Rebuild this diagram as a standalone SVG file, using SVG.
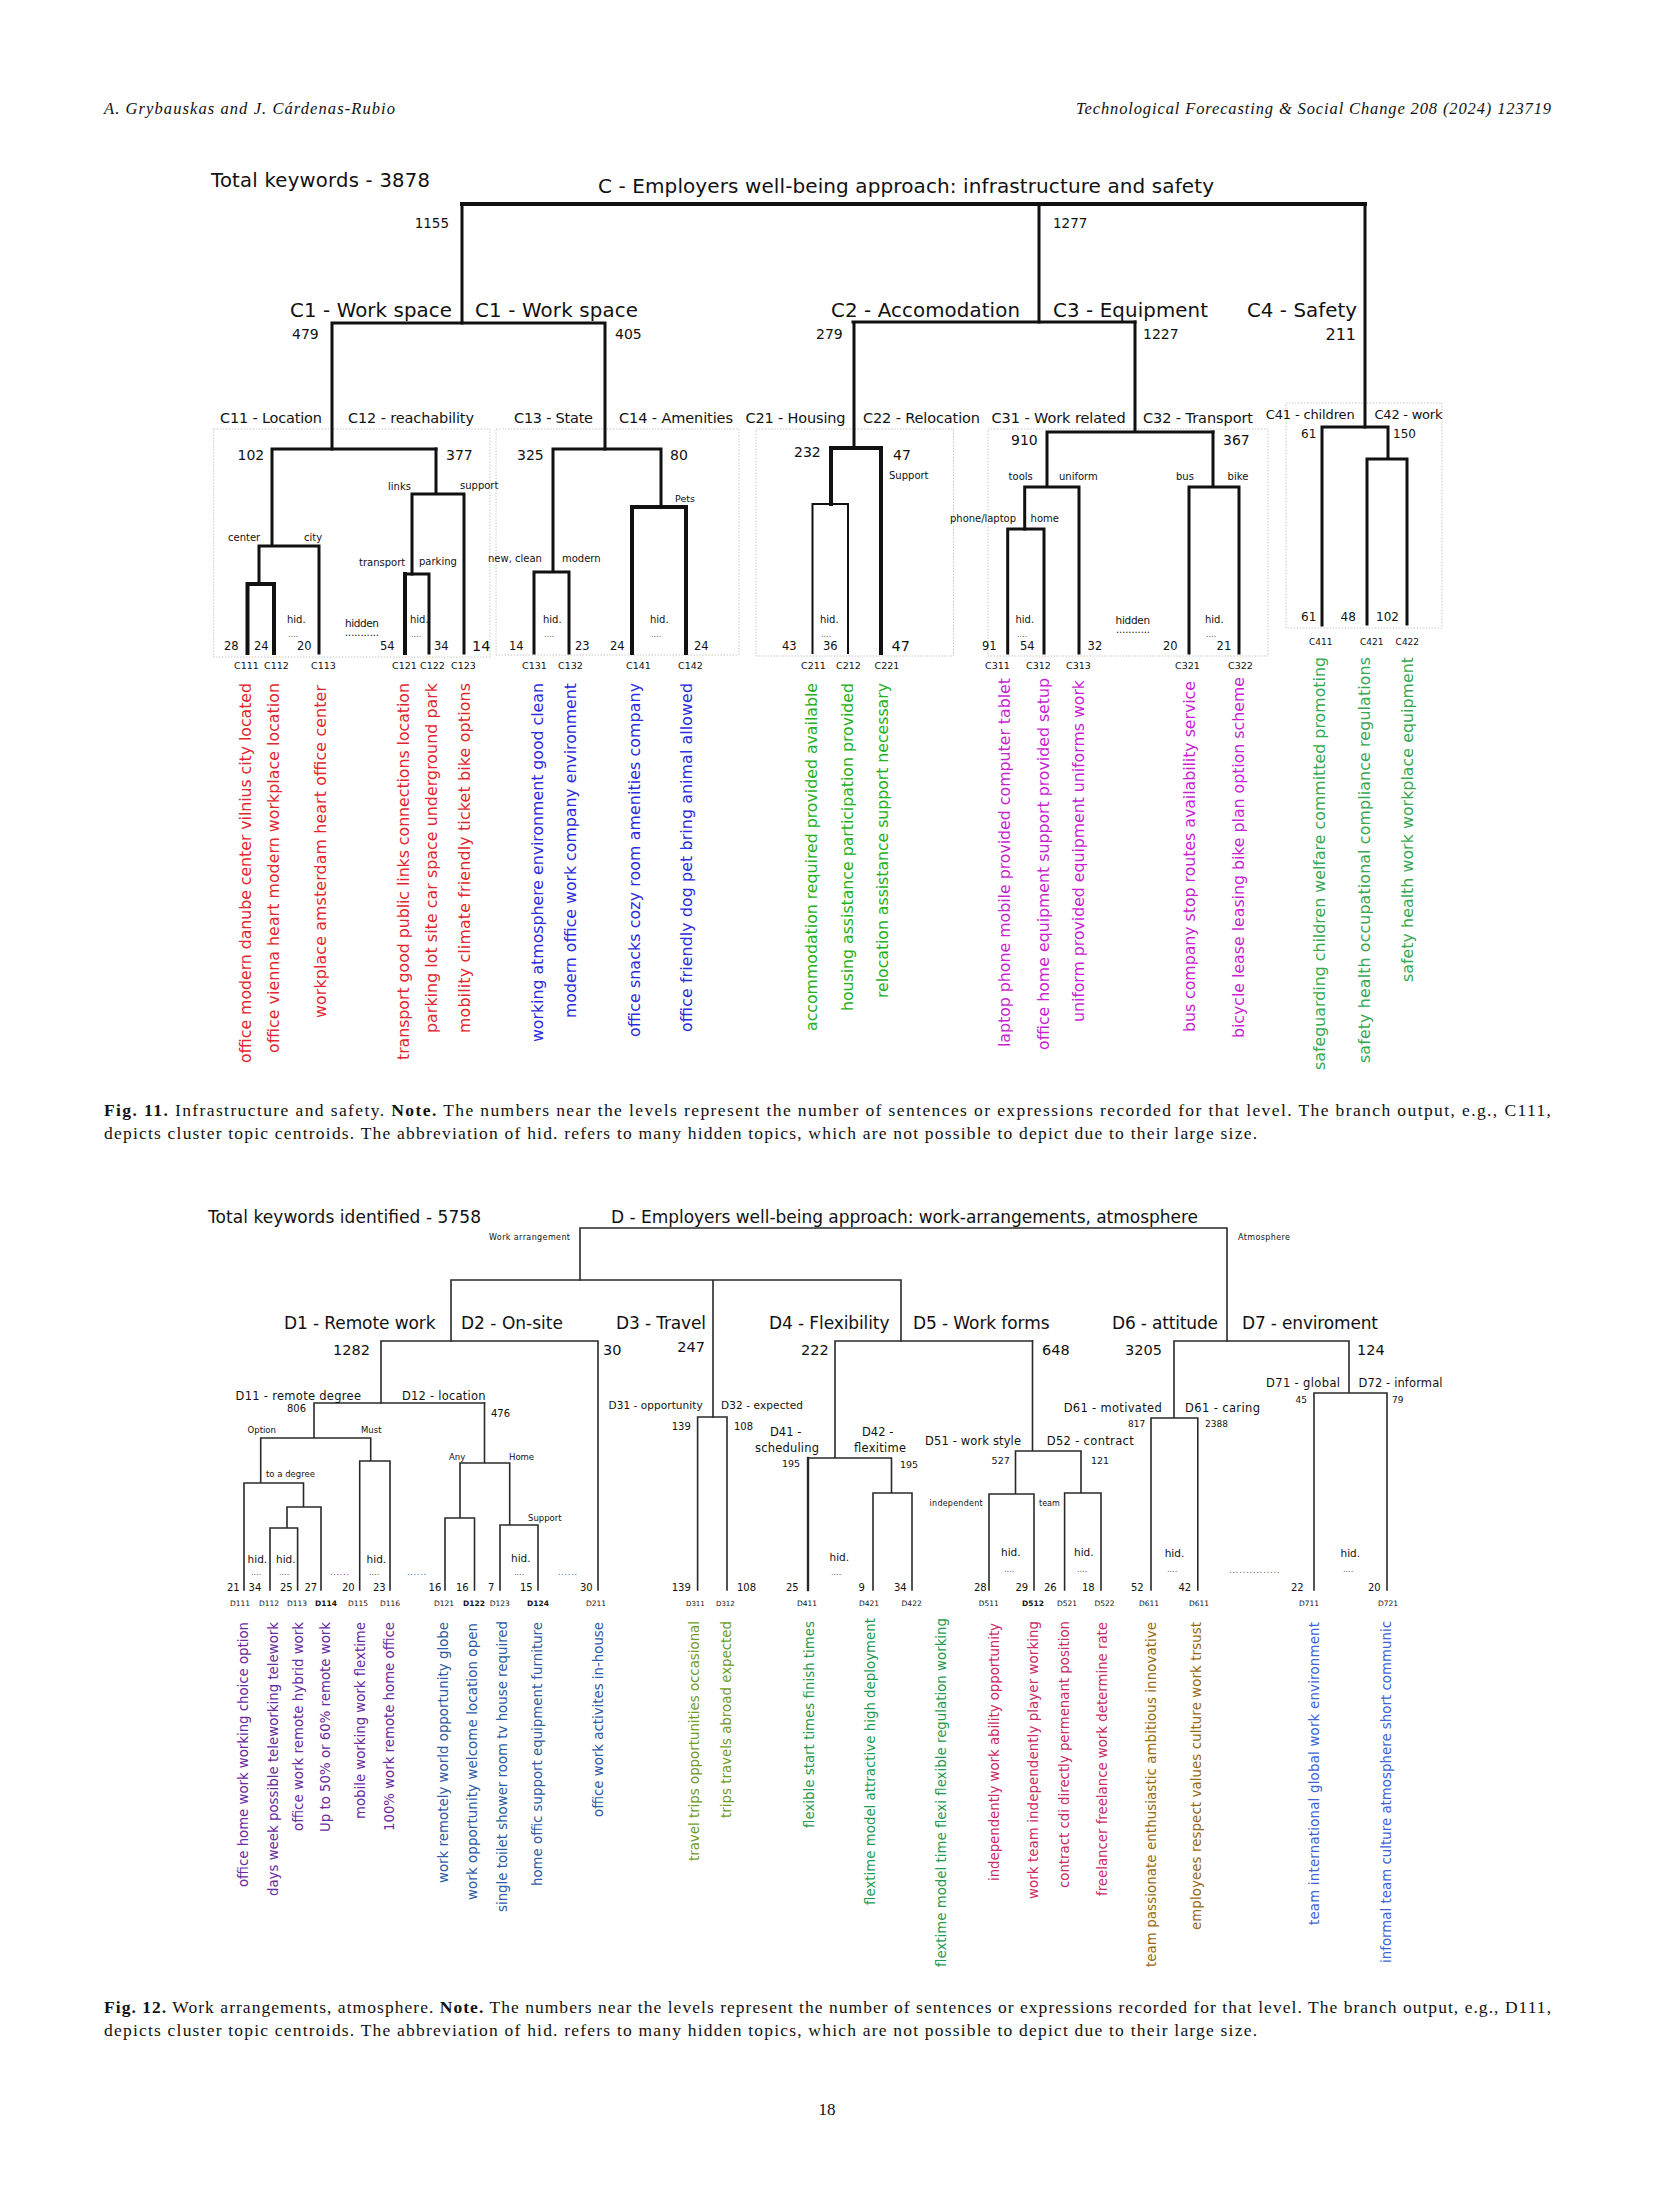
<svg xmlns="http://www.w3.org/2000/svg" width="1654" height="2205" viewBox="0 0 1654 2205">
<style>
text{font-family:"DejaVu Sans","Liberation Sans",sans-serif;fill:#111}
.hd{font-family:"Liberation Serif",serif;font-style:italic;font-size:16.5px}
.cap{font-family:"Liberation Serif",serif;font-size:17.5px}
.cap .b{font-weight:bold}
.pg{font-family:"Liberation Serif",serif;font-size:17px}
.t20{font-size:20px}.t196{font-size:19.6px}.t198{font-size:19.8px}.t17{font-size:17px}.t16{font-size:16px}
.t145{font-size:14.5px}.t14{font-size:14px}.t135{font-size:13.5px}.t13{font-size:13px}.t12{font-size:12px}
.t115{font-size:11.5px}.t11{font-size:11px}.t105{font-size:10.5px}.t10{font-size:10px}
.t95{font-size:9.5px}.t9{font-size:9px}.t85{font-size:8.5px}.t8{font-size:8px}.t75{font-size:7.5px}.t7{font-size:7px}
.dots{font-size:8px;fill:#555}
.r11{font-size:15.8px}.r12{font-size:13.3px}
.red{fill:#e3262d}.blu{fill:#2a2ae0}.grn{fill:#22b022}.mag{fill:#c81fd0}.gr2{fill:#35a853}
.pur{fill:#6a2aa0}.stb{fill:#2d5ba6}.olv{fill:#6e9c25}.tea{fill:#1f9a50}.crm{fill:#cc2a66}.brn{fill:#9a6812}.roy{fill:#3c64d8}
.box{fill:none;stroke:#c8c8c8;stroke-width:1;stroke-dasharray:1.5 1.5}
.k4,.k3,.k2,.ln{fill:none;stroke:#111;stroke-linecap:square;stroke-linejoin:miter}
.k4{stroke-width:4}.k3{stroke-width:3}.k2{stroke-width:2}
.ln{stroke:#2a2a2a;stroke-width:1.6}
</style>
<rect width="1654" height="2205" fill="#fff"/>

<g id="page-header">
<text class="hd" x="104" y="114" textLength="291">A. Grybauskas and J. Cárdenas-Rubio</text>
<text class="hd" x="1076" y="114" textLength="475">Technological Forecasting &amp; Social Change 208 (2024) 123719</text>
</g>

<!-- ================= FIG 11 ================= -->
<g id="fig11-boxes">
<rect class="box" x="213.6" y="429" width="276.4" height="228"/>
<rect class="box" x="496" y="429" width="243" height="226"/>
<rect class="box" x="756" y="429" width="197.5" height="227"/>
<rect class="box" x="988" y="429" width="280" height="227"/>
<rect class="box" x="1286" y="403" width="156" height="225"/>
</g>

<g id="fig11-connectors">
<path class="k4" d="M462,204 H1365"/>
<path class="k3" d="M462,204 V323 M1039,204 V322 M1365,204 V427"/>
<path class="k3" d="M332,323 H605 M332,323 V449 M605,323 V449"/>
<path class="k3" d="M272,449 H436 M272,449 V546 M259,546 H319 M319,546 V653 M259,546 V584"/>
<path class="k4" d="M247.5,584 H274 M247.5,584 V653 M274,584 V653"/>
<path class="k3" d="M436,449 V494 M412,494 H464 M464,494 V653 M412,494 V574"/>
<path class="k3" d="M405,574 H429 M429,574 V653"/>
<path class="k4" d="M405,574 V653"/>
<path class="k3" d="M553,449 H661 M553,449 V572 M534,572 H569 M534,572 V653 M569,572 V653 M661,449 V507"/>
<path class="k4" d="M632,507 H686 M632,507 V653 M686,507 V653"/>
<path class="k3" d="M853,322 H1135 M854,322 V448"/>
<path class="k4" d="M831,448 H881 M831,448 V504 M881,448 V653"/>
<path class="k2" d="M812.5,504 H848 M812.5,504 V653 M848,504 V653"/>
<path class="k3" d="M1135,322 V432 M1047,432 H1213 M1047,432 V487 M1024.7,487 H1079 M1079,487 V653 M1024.7,487 V529"/>
<path class="k3" d="M1007.7,529 H1044 M1007.7,529 V653 M1044,529 V653"/>
<path class="k3" d="M1213,432 V487 M1189,487 H1239 M1189,487 V653 M1239,487 V653"/>
<path class="k3" d="M1322,427 H1388 M1322,427 V625 M1388,427 V459 M1367,459 H1407 M1367,459 V624 M1407,459 V624"/>
</g>

<g id="node-C">
<text class="t196" x="211" y="187" textLength="219">Total keywords - 3878</text>
<text class="t20" x="598" y="193" textLength="616">C - Employers well-being approach: infrastructure and safety</text>
<text class="t135" x="449" y="228" text-anchor="end">1155</text>
<text class="t135" x="1053" y="228">1277</text>
</g>
<g id="node-C1">
<text class="t198" x="290" y="317" textLength="162">C1 - Work space</text>
<text class="t198" x="475" y="317" textLength="163">C1 - Work space</text>
<text class="t14" x="292" y="339">479</text>
<text class="t14" x="615" y="339">405</text>
</g>
<g id="node-C2">
<text class="t198" x="831" y="317" textLength="189">C2 - Accomodation</text>
<text class="t14" x="816" y="339">279</text>
</g>
<g id="node-C3">
<text class="t198" x="1053" y="317" textLength="155">C3 - Equipment</text>
<text class="t14" x="1143" y="339">1227</text>
</g>
<g id="node-C4">
<text class="t198" x="1247" y="317" textLength="110">C4 - Safety</text>
<text class="t16" x="1356" y="340" text-anchor="end">211</text>
</g>

<g id="node-C11">
<text class="t145" x="220" y="423" textLength="102">C11 - Location</text>
<text class="t14" x="237.5" y="460">102</text>
<text class="t10" x="228" y="541">center</text>
<text class="t10" x="304" y="541">city</text>
<text class="t10" x="287" y="623">hid.</text>
<text class="dots" x="288" y="637">....</text>
<text class="t115" x="224" y="650">28</text>
<text class="t115" x="254" y="650">24</text>
<text class="t115" x="297" y="650">20</text>
<text class="t95" x="234" y="669">C111</text>
<text class="t95" x="264" y="669">C112</text>
<text class="t95" x="311" y="669">C113</text>
</g>
<g id="node-C12">
<text class="t145" x="348" y="423" textLength="126">C12 - reachability</text>
<text class="t14" x="446" y="460">377</text>
<text class="t10" x="388" y="490">links</text>
<text class="t10" x="460" y="489">support</text>
<text class="t10" x="359" y="566">transport</text>
<text class="t10" x="419" y="565">parking</text>
<text class="t105" x="345" y="627" textLength="34">hidden</text>
<text class="t10" x="345" y="636" textLength="34">...........</text>
<text class="t10" x="410" y="623">hid.</text>
<text class="dots" x="411" y="637">....</text>
<text class="t115" x="380" y="650">54</text>
<text class="t115" x="434" y="650">34</text>
<text class="t145" x="472" y="651">14</text>
<text class="t95" x="392" y="669">C121</text>
<text class="t95" x="420" y="669">C122</text>
<text class="t95" x="451" y="669">C123</text>
</g>
<g id="node-C13">
<text class="t145" x="514" y="423" textLength="79">C13 - State</text>
<text class="t14" x="517" y="460">325</text>
<text class="t10" x="488" y="562">new, clean</text>
<text class="t10" x="562" y="562">modern</text>
<text class="t10" x="543" y="623">hid.</text>
<text class="dots" x="544" y="637">....</text>
<text class="t115" x="509" y="650">14</text>
<text class="t115" x="575" y="650">23</text>
<text class="t95" x="522" y="669">C131</text>
<text class="t95" x="558" y="669">C132</text>
</g>
<g id="node-C14">
<text class="t145" x="619" y="423" textLength="114">C14 - Amenities</text>
<text class="t14" x="670" y="460">80</text>
<text class="t95" x="675" y="502">Pets</text>
<text class="t10" x="650" y="623">hid.</text>
<text class="dots" x="651" y="637">....</text>
<text class="t115" x="610" y="650">24</text>
<text class="t115" x="694" y="650">24</text>
<text class="t95" x="626" y="669">C141</text>
<text class="t95" x="678" y="669">C142</text>
</g>
<g id="node-C21">
<text class="t145" x="745.5" y="423" textLength="100">C21 - Housing</text>
<text class="t14" x="794" y="457">232</text>
<text class="t10" x="820" y="623">hid.</text>
<text class="dots" x="821" y="637">....</text>
<text class="t115" x="782" y="650">43</text>
<text class="t115" x="823" y="650">36</text>
<text class="t95" x="801" y="669">C211</text>
<text class="t95" x="836" y="669">C212</text>
</g>
<g id="node-C22">
<text class="t145" x="863" y="423" textLength="117">C22 - Relocation</text>
<text class="t14" x="893" y="460">47</text>
<text class="t10" x="889" y="479">Support</text>
<text class="t145" x="891.5" y="651">47</text>
<text class="t95" x="874.5" y="669">C221</text>
</g>
<g id="node-C31">
<text class="t145" x="991.6" y="423" textLength="134">C31 - Work related</text>
<text class="t14" x="1011" y="445">910</text>
<text class="t10" x="1008.6" y="480">tools</text>
<text class="t10" x="1059" y="480">uniform</text>
<text class="t10" x="950" y="522" textLength="66">phone/laptop</text>
<text class="t10" x="1030.6" y="522">home</text>
<text class="t10" x="1015.5" y="623">hid.</text>
<text class="dots" x="1017" y="637">....</text>
<text class="t115" x="982" y="650">91</text>
<text class="t115" x="1020" y="650">54</text>
<text class="t115" x="1087.6" y="650">32</text>
<text class="t95" x="985" y="669">C311</text>
<text class="t95" x="1026" y="669">C312</text>
<text class="t95" x="1066" y="669">C313</text>
<text class="t105" x="1115.6" y="624" textLength="34.5">hidden</text>
<text class="t10" x="1116" y="633" textLength="34">...........</text>
</g>
<g id="node-C32">
<text class="t145" x="1143" y="423" textLength="110">C32 - Transport</text>
<text class="t14" x="1223" y="445">367</text>
<text class="t10" x="1176" y="480">bus</text>
<text class="t10" x="1227.6" y="480">bike</text>
<text class="t10" x="1205" y="623">hid.</text>
<text class="dots" x="1206" y="637">....</text>
<text class="t115" x="1163" y="650">20</text>
<text class="t115" x="1216.6" y="650">21</text>
<text class="t95" x="1175" y="669">C321</text>
<text class="t95" x="1228" y="669">C322</text>
</g>
<g id="node-C41">
<text class="t13" x="1265.7" y="419" textLength="89">C41 - children</text>
<text class="t12" x="1301" y="438">61</text>
<text class="t12" x="1301" y="621">61</text>
<text class="t9" x="1309" y="645">C411</text>
</g>
<g id="node-C42">
<text class="t13" x="1374.5" y="419" textLength="68">C42 - work</text>
<text class="t12" x="1393" y="438">150</text>
<text class="t12" x="1340.5" y="621">48</text>
<text class="t12" x="1376" y="621">102</text>
<text class="t9" x="1360" y="645">C421</text>
<text class="t9" x="1395.6" y="645">C422</text>
</g>

<g id="fig11-leaf-topics" xml:space="preserve">
<text class="r11 red" x="251" y="1063" transform="rotate(-90 251 1063)" textLength="380">office modern danube center vilnius city located</text>
<text class="r11 red" x="278.5" y="1053" transform="rotate(-90 278.5 1053)" textLength="370">office vienna heart modern workplace  location</text>
<text class="r11 red" x="326" y="1018" transform="rotate(-90 326 1018)" textLength="333">workplace  amsterdam heart office  center</text>
<text class="r11 red" x="409" y="1060" transform="rotate(-90 409 1060)" textLength="377">transport good public links connections location</text>
<text class="r11 red" x="437" y="1033" transform="rotate(-90 437 1033)" textLength="350">parking lot site car space underground  park</text>
<text class="r11 red" x="470" y="1033" transform="rotate(-90 470 1033)" textLength="350">mobility climate friendly  ticket bike  options</text>
<text class="r11 blu" x="543" y="1042" transform="rotate(-90 543 1042)" textLength="359">working atmosphere environment good clean</text>
<text class="r11 blu" x="576" y="1018" transform="rotate(-90 576 1018)" textLength="335">modern office work company environment</text>
<text class="r11 blu" x="640" y="1037" transform="rotate(-90 640 1037)" textLength="354">office snacks cozy  room amenities company</text>
<text class="r11 blu" x="692" y="1032" transform="rotate(-90 692 1032)" textLength="349">office friendly dog  pet bring animal allowed</text>
<text class="r11 grn" x="817" y="1031" transform="rotate(-90 817 1031)" textLength="348">accommodation required provided available</text>
<text class="r11 grn" x="852.5" y="1011" transform="rotate(-90 852.5 1011)" textLength="328">housing assistance participation provided</text>
<text class="r11 grn" x="888" y="998" transform="rotate(-90 888 998)" textLength="315">relocation assistance support necessary</text>
<text class="r11 mag" x="1010" y="1047" transform="rotate(-90 1010 1047)" textLength="369">laptop phone mobile provided computer tablet</text>
<text class="r11 mag" x="1048.5" y="1050" transform="rotate(-90 1048.5 1050)" textLength="372">office home equipment support provided setup</text>
<text class="r11 mag" x="1083.5" y="1022" transform="rotate(-90 1083.5 1022)" textLength="342">uniform provided equipment uniforms work</text>
<text class="r11 mag" x="1194.5" y="1032" transform="rotate(-90 1194.5 1032)" textLength="351">bus company stop routes availability service</text>
<text class="r11 mag" x="1243.6" y="1038" transform="rotate(-90 1243.6 1038)" textLength="361">bicycle lease leasing bike plan option scheme</text>
<text class="r11 gr2" x="1324.5" y="1070" transform="rotate(-90 1324.5 1070)" textLength="413">safeguarding children welfare committed promoting</text>
<text class="r11 gr2" x="1370" y="1063" transform="rotate(-90 1370 1063)" textLength="406">safety health  occupational compliance regulations</text>
<text class="r11 gr2" x="1412.6" y="982" transform="rotate(-90 1412.6 982)" textLength="325">safety health work workplace equipment</text>
</g>

<g id="fig11-caption">
<text class="cap" x="104" y="1116" textLength="1447"><tspan class="b">Fig. 11.</tspan>  Infrastructure and safety. <tspan class="b">Note.</tspan> The numbers near the levels represent the number of sentences or expressions recorded for that level. The branch output, e.g., C111,</text>
<text class="cap" x="104" y="1139" textLength="1153">depicts cluster topic centroids. The abbreviation of hid. refers to many hidden topics, which are not possible to depict due to their large size.</text>
</g>

<!-- ================= FIG 12 ================= -->
<g id="fig12-connectors">
<path class="ln" d="M580,1228 H1227 M580,1228 V1280 M1227,1228 V1341"/>
<path class="ln" d="M451,1280 H901 M451,1280 V1341 M713,1280 V1417 M901,1280 V1341"/>
<path class="ln" d="M381,1341 H598 M381,1341 V1403 M598,1341 V1590"/>
<path class="ln" d="M314,1403 H484.5 M314,1403 V1438 M260.7,1438 H370.7 M260.7,1438 V1483 M244,1483 H303.5 M244,1483 V1590 M303.5,1483 V1507 M287,1507 H321 M321,1507 V1590 M287,1507 V1528 M270,1528 H297.6 M270,1528 V1590 M297.6,1528 V1590 M370.7,1438 V1461 M359.7,1461 H390 M359.7,1461 V1590 M390,1461 V1590"/>
<path class="ln" d="M484.5,1403 V1463 M460,1463 H509.7 M460,1463 V1518 M445,1518 H474.5 M445,1518 V1590 M474.5,1518 V1590 M509.7,1463 V1525 M500,1525 H538 M500,1525 V1590 M538,1525 V1590"/>
<path class="ln" d="M697.6,1417 H727 M697.6,1417 V1590 M727,1417 V1590"/>
<path class="ln" d="M835,1341 H1032.5 M835,1341 V1458 M808,1458 H891.5 M891.5,1458 V1493 M873,1493 H912 M873,1493 V1590 M912,1493 V1590"/>
<path class="ln" style="stroke-width:2.4" d="M808,1458 V1590"/>
<path class="ln" d="M1032.5,1341 V1451 M1015.5,1451 H1081 M1015.5,1451 V1494 M989,1494 H1034 M989,1494 V1590 M1034,1494 V1590 M1081,1451 V1493 M1064.6,1493 H1101 M1064.6,1493 V1590 M1101,1493 V1590"/>
<path class="ln" d="M1174,1341 H1349 M1174,1341 V1418 M1151,1418 H1197.8 M1151,1418 V1590 M1197.8,1418 V1590 M1349,1341 V1393 M1314,1393 H1387 M1314,1393 V1590 M1387,1393 V1590"/>
</g>

<g id="node-D">
<text class="t17" x="208" y="1223" textLength="273">Total keywords identified - 5758</text>
<text class="t17" x="611" y="1223" textLength="587">D - Employers well-being approach: work-arrangements, atmosphere</text>
<text class="t8" x="489" y="1240" textLength="81">Work arrangement</text>
<text class="t8" x="1238" y="1240" textLength="52">Atmosphere</text>
</g>
<g id="node-D1">
<text class="t17" x="284" y="1329" textLength="151.5">D1 - Remote work</text>
<text class="t145" x="370" y="1355" text-anchor="end">1282</text>
</g>
<g id="node-D2">
<text class="t17" x="461" y="1329" textLength="102">D2 - On-site</text>
<text class="t145" x="603" y="1355">30</text>
<text class="t10" x="580" y="1591">30</text>
<text class="dots" x="558" y="1575" textLength="19" style="fill:#2d5ba6">......</text>
<text class="t75" x="586" y="1606">D211</text>
</g>
<g id="node-D3">
<text class="t17" x="616" y="1329" textLength="90">D3 - Travel</text>
<text class="t145" x="705" y="1352" text-anchor="end">247</text>
<text class="t105" x="608.6" y="1409" textLength="94">D31 - opportunity</text>
<text class="t105" x="721" y="1409" textLength="82">D32 - expected</text>
<text class="t10" x="671.7" y="1430">139</text>
<text class="t10" x="734" y="1430">108</text>
<text class="t10" x="671.7" y="1591">139</text>
<text class="t10" x="737" y="1591">108</text>
<text class="t7" x="686" y="1606">D311</text>
<text class="t7" x="716" y="1606">D312</text>
</g>
<g id="node-D11">
<text class="t115" x="235.5" y="1400" textLength="125.5">D11 - remote degree</text>
<text class="t10" x="287" y="1412">806</text>
<text class="t85" x="247.6" y="1433">Option</text>
<text class="t85" x="361" y="1433">Must</text>
<text class="t85" x="266" y="1477" textLength="49">to a degree</text>
<text class="t105" x="247.6" y="1563">hid.</text>
<text class="t105" x="276" y="1563">hid.</text>
<text class="t105" x="366.6" y="1563">hid.</text>
<text class="dots" x="251" y="1575">....</text>
<text class="dots" x="279" y="1575">....</text>
<text class="dots" x="369" y="1575">....</text>
<text class="dots" x="330" y="1575" textLength="19" style="fill:#6a2aa0">......</text>
<text class="t10" x="227" y="1591">21</text>
<text class="t10" x="248.6" y="1591">34</text>
<text class="t10" x="280" y="1591">25</text>
<text class="t10" x="304.5" y="1591">27</text>
<text class="t10" x="342" y="1591">20</text>
<text class="t10" x="373" y="1591">23</text>
<text class="t75" x="230" y="1606">D111</text>
<text class="t75" x="259" y="1606">D112</text>
<text class="t75" x="287" y="1606">D113</text>
<text class="t75" x="315" y="1606" font-weight="bold">D114</text>
<text class="t75" x="348" y="1606">D115</text>
<text class="t75" x="380" y="1606">D116</text>
</g>
<g id="node-D12">
<text class="t115" x="402" y="1400" textLength="83.5">D12 - location</text>
<text class="t10" x="491" y="1417">476</text>
<text class="t85" x="449" y="1460">Any</text>
<text class="t85" x="509" y="1460">Home</text>
<text class="t85" x="528" y="1521">Support</text>
<text class="t105" x="511" y="1562">hid.</text>
<text class="dots" x="514" y="1575">....</text>
<text class="dots" x="407" y="1575" textLength="19" style="fill:#2d5ba6">......</text>
<text class="t10" x="428.6" y="1591">16</text>
<text class="t10" x="456" y="1591">16</text>
<text class="t10" x="488" y="1591">7</text>
<text class="t10" x="520" y="1591">15</text>
<text class="t75" x="434" y="1606">D121</text>
<text class="t75" x="463" y="1606" font-weight="bold">D122</text>
<text class="t75" x="489.7" y="1606">D123</text>
<text class="t75" x="527" y="1606" font-weight="bold">D124</text>
</g>
<g id="node-D4">
<text class="t17" x="769" y="1329" textLength="120.5">D4 - Flexibility</text>
<text class="t145" x="801" y="1355">222</text>
<text class="t115" x="770" y="1436">D41 -</text>
<text class="t115" x="755" y="1452" textLength="64">scheduling</text>
<text class="t115" x="862" y="1436">D42 -</text>
<text class="t115" x="854" y="1452" textLength="52">flexitime</text>
<text class="t95" x="782" y="1467">195</text>
<text class="t95" x="900" y="1468">195</text>
<text class="t105" x="829.5" y="1561">hid.</text>
<text class="dots" x="831" y="1575">....</text>
<text class="t10" x="786" y="1591">25</text>
<text class="t10" x="858.5" y="1591">9</text>
<text class="t10" x="894" y="1591">34</text>
<text class="t75" x="797" y="1606">D411</text>
<text class="t75" x="859" y="1606">D421</text>
<text class="t75" x="901.6" y="1606">D422</text>
</g>
<g id="node-D5">
<text class="t17" x="913" y="1329" textLength="136.5">D5 - Work forms</text>
<text class="t145" x="1042" y="1355">648</text>
<text class="t115" x="925" y="1445" textLength="96">D51 - work style</text>
<text class="t115" x="1046.7" y="1445" textLength="87">D52 - contract</text>
<text class="t95" x="991.6" y="1464">527</text>
<text class="t95" x="1091" y="1464">121</text>
<text class="t8" x="929.6" y="1506" textLength="53">independent</text>
<text class="t8" x="1039" y="1506">team</text>
<text class="t105" x="1001" y="1556">hid.</text>
<text class="t105" x="1074" y="1556">hid.</text>
<text class="dots" x="1004" y="1572">....</text>
<text class="dots" x="1077" y="1572">....</text>
<text class="t10" x="974" y="1591">28</text>
<text class="t10" x="1015.5" y="1591">29</text>
<text class="t10" x="1044" y="1591">26</text>
<text class="t10" x="1082" y="1591">18</text>
<text class="t75" x="978.7" y="1606">D511</text>
<text class="t75" x="1022" y="1606" font-weight="bold">D512</text>
<text class="t75" x="1057" y="1606">D521</text>
<text class="t75" x="1094.5" y="1606">D522</text>
</g>
<g id="node-D6">
<text class="t17" x="1112" y="1329" textLength="106">D6 - attitude</text>
<text class="t145" x="1162" y="1355" text-anchor="end">3205</text>
<text class="t115" x="1063.7" y="1412" textLength="98">D61 - motivated</text>
<text class="t115" x="1185" y="1412" textLength="75">D61 - caring</text>
<text class="t9" x="1128" y="1427">817</text>
<text class="t9" x="1205" y="1427">2388</text>
<text class="t105" x="1164.7" y="1557">hid.</text>
<text class="dots" x="1167" y="1572">....</text>
<text class="t10" x="1131" y="1591">52</text>
<text class="t10" x="1178.5" y="1591">42</text>
<text class="t75" x="1139" y="1606">D611</text>
<text class="t75" x="1189" y="1606">D611</text>
<text class="dots" x="1229" y="1573" textLength="50.5">...............</text>
</g>
<g id="node-D7">
<text class="t17" x="1242" y="1329" textLength="136">D7 - enviroment</text>
<text class="t145" x="1357" y="1355">124</text>
<text class="t115" x="1266" y="1387" textLength="74">D71 - global</text>
<text class="t115" x="1358.5" y="1387" textLength="84">D72 - informal</text>
<text class="t9" x="1295.5" y="1403">45</text>
<text class="t9" x="1392" y="1403">79</text>
<text class="t105" x="1340.5" y="1557">hid.</text>
<text class="dots" x="1343" y="1572">....</text>
<text class="t10" x="1291" y="1591">22</text>
<text class="t10" x="1368" y="1591">20</text>
<text class="t75" x="1299" y="1606">D711</text>
<text class="t75" x="1378" y="1606">D721</text>
</g>

<g id="fig12-leaf-topics" xml:space="preserve">
<text class="r12 pur" x="248" y="1887" transform="rotate(-90 248 1887)" textLength="265">office home work working choice option</text>
<text class="r12 pur" x="278" y="1896" transform="rotate(-90 278 1896)" textLength="274">days week possible teleworking telework</text>
<text class="r12 pur" x="303" y="1831" transform="rotate(-90 303 1831)" textLength="209">office work remote hybrid work</text>
<text class="r12 pur" x="329.7" y="1832" transform="rotate(-90 329.7 1832)" textLength="210">Up to 50% or 60% remote work</text>
<text class="r12 pur" x="365" y="1819" transform="rotate(-90 365 1819)" textLength="197">mobile working work flextime</text>
<text class="r12 pur" x="394" y="1831" transform="rotate(-90 394 1831)" textLength="209">100% work remote home office</text>
<text class="r12 stb" x="447.6" y="1883" transform="rotate(-90 447.6 1883)" textLength="261">work remotely world opportunity globe</text>
<text class="r12 stb" x="477" y="1900" transform="rotate(-90 477 1900)" textLength="277">work  opportunity welcome location open</text>
<text class="r12 stb" x="507" y="1912" transform="rotate(-90 507 1912)" textLength="291">single toilet shower room tv house required</text>
<text class="r12 stb" x="542" y="1886" transform="rotate(-90 542 1886)" textLength="264">home offic support equipment furniture</text>
<text class="r12 stb" x="603" y="1817" transform="rotate(-90 603 1817)" textLength="195">office work activites in-house</text>
<text class="r12 olv" x="699" y="1861" transform="rotate(-90 699 1861)" textLength="240">travel trips opportunities occasional</text>
<text class="r12 olv" x="731" y="1818" transform="rotate(-90 731 1818)" textLength="197">trips travels abroad expected</text>
<text class="r12 tea" x="813.5" y="1828" transform="rotate(-90 813.5 1828)" textLength="207">flexible start times finish times</text>
<text class="r12 tea" x="875.4" y="1905" transform="rotate(-90 875.4 1905)" textLength="287">flextime model attractive high deployment</text>
<text class="r12 tea" x="945.7" y="1967" transform="rotate(-90 945.7 1967)" textLength="349">flextime model time flexi flexible regulation working</text>
<text class="r12 crm" x="999.4" y="1881" transform="rotate(-90 999.4 1881)" textLength="258">independently work ability opportunity</text>
<text class="r12 crm" x="1038.4" y="1899" transform="rotate(-90 1038.4 1899)" textLength="278">work team independently  player working</text>
<text class="r12 crm" x="1069" y="1888" transform="rotate(-90 1069 1888)" textLength="267">contract cdi directly permenant position</text>
<text class="r12 crm" x="1107" y="1896" transform="rotate(-90 1107 1896)" textLength="274">freelancer freelance work determine rate</text>
<text class="r12 brn" x="1155.5" y="1967" transform="rotate(-90 1155.5 1967)" textLength="345">team passionate enthusiastic ambitious  innovative</text>
<text class="r12 brn" x="1201.4" y="1930" transform="rotate(-90 1201.4 1930)" textLength="308">employees respect values  culture work trsust</text>
<text class="r12 roy" x="1318.5" y="1925" transform="rotate(-90 1318.5 1925)" textLength="303">team international global  work  environment</text>
<text class="r12 roy" x="1391" y="1963" transform="rotate(-90 1391 1963)" textLength="342">informal team culture atmosphere short communic</text>
</g>

<g id="fig12-caption">
<text class="cap" x="104" y="2013" textLength="1447"><tspan class="b">Fig. 12.</tspan>  Work arrangements, atmosphere. <tspan class="b">Note.</tspan> The numbers near the levels represent the number of sentences or expressions recorded for that level. The branch output, e.g., D111,</text>
<text class="cap" x="104" y="2036" textLength="1153">depicts cluster topic centroids. The abbreviation of hid. refers to many hidden topics, which are not possible to depict due to their large size.</text>
</g>

<g id="page-number">
<text class="pg" x="827" y="2115" text-anchor="middle">18</text>
</g>
</svg>
